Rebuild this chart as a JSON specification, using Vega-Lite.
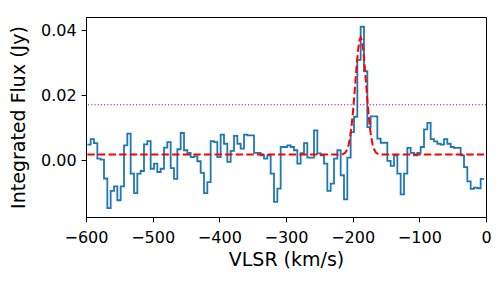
{
  "$schema": "https://vega.github.io/schema/vega-lite/v6.json",
  "width": 400,
  "height": 200,
  "autosize": {"type": "none"},
  "padding": {"left": 86, "top": 17, "right": 17, "bottom": 64},
  "config": {
    "font": "DejaVu Sans",
    "view": {"stroke": "black", "strokeWidth": 1},
    "axis": {
      "grid": false,
      "domainColor": "black",
      "tickColor": "black",
      "labelColor": "black",
      "titleColor": "black",
      "tickSize": 4.9,
      "labelPadding": 4.9,
      "labelFontSize": 16,
      "titleFontSize": 19,
      "titleFontWeight": "normal",
      "labelFont": "DejaVu Sans",
      "titleFont": "DejaVu Sans",
      "labelFlush": false,
      "labelOverlap": false,
      "domainWidth": 1,
      "tickWidth": 1
    },
    "axisX": {"labelPadding": 7.5, "titlePadding": 5},
    "axisY": {"titlePadding": 12}
  },
  "datasets": {
    "spectrum": [
      {"v": -598, "flux": 0.0048}, {"v": -593, "flux": 0.0065}, {"v": -588, "flux": 0.0053}, {"v": -583, "flux": 0.0005},
      {"v": -578, "flux": 0.0002}, {"v": -573, "flux": -0.0056}, {"v": -568, "flux": -0.0147}, {"v": -563, "flux": -0.0094},
      {"v": -558, "flux": -0.0080}, {"v": -553, "flux": -0.0123}, {"v": -548, "flux": -0.0080}, {"v": -543, "flux": 0.0046},
      {"v": -538, "flux": 0.0082}, {"v": -533, "flux": -0.0041}, {"v": -528, "flux": -0.0101}, {"v": -523, "flux": -0.0041},
      {"v": -518, "flux": -0.0033}, {"v": -513, "flux": 0.0049}, {"v": -508, "flux": 0.0059}, {"v": -503, "flux": -0.0026},
      {"v": -498, "flux": -0.0010}, {"v": -493, "flux": -0.0036}, {"v": -488, "flux": -0.0026}, {"v": -483, "flux": 0.0039},
      {"v": -478, "flux": 0.0056}, {"v": -473, "flux": -0.0024}, {"v": -468, "flux": -0.0057}, {"v": -463, "flux": 0.0034},
      {"v": -458, "flux": 0.0084}, {"v": -453, "flux": 0.0031}, {"v": -448, "flux": 0.0023}, {"v": -443, "flux": 0.0010},
      {"v": -438, "flux": 0.0012}, {"v": -433, "flux": -0.0003}, {"v": -428, "flux": -0.0039}, {"v": -423, "flux": -0.0101},
      {"v": -418, "flux": -0.0067}, {"v": -413, "flux": 0.0059}, {"v": -408, "flux": 0.0056}, {"v": -403, "flux": 0.0010},
      {"v": -398, "flux": 0.0079}, {"v": -393, "flux": 0.0051}, {"v": -388, "flux": -0.0005}, {"v": -383, "flux": 0.0029},
      {"v": -378, "flux": 0.0075}, {"v": -373, "flux": 0.0051}, {"v": -368, "flux": 0.0036}, {"v": -363, "flux": 0.0079},
      {"v": -358, "flux": 0.0077}, {"v": -353, "flux": 0.0077}, {"v": -348, "flux": 0.0023}, {"v": -343, "flux": 0.0023},
      {"v": -338, "flux": 0.0015}, {"v": -333, "flux": 0.0005}, {"v": -328, "flux": 0.0015}, {"v": -323, "flux": -0.0041},
      {"v": -318, "flux": -0.0128}, {"v": -313, "flux": -0.0087}, {"v": -308, "flux": 0.0041}, {"v": -303, "flux": 0.0041},
      {"v": -298, "flux": 0.0046}, {"v": -293, "flux": 0.0041}, {"v": -288, "flux": 0.0031}, {"v": -283, "flux": -0.0010},
      {"v": -278, "flux": 0.0022}, {"v": -273, "flux": 0.0053}, {"v": -268, "flux": 0.0008}, {"v": -263, "flux": 0.0008},
      {"v": -258, "flux": 0.0092}, {"v": -253, "flux": 0.0021}, {"v": -248, "flux": 0.0015}, {"v": -243, "flux": -0.0010},
      {"v": -238, "flux": -0.0094}, {"v": -233, "flux": -0.0072}, {"v": -228, "flux": 0.0005}, {"v": -223, "flux": 0.0031},
      {"v": -218, "flux": -0.0046}, {"v": -213, "flux": -0.0120}, {"v": -208, "flux": 0.0008}, {"v": -203, "flux": 0.0087},
      {"v": -198, "flux": 0.0134}, {"v": -193, "flux": 0.0309}, {"v": -188, "flux": 0.0411}, {"v": -183, "flux": 0.0274},
      {"v": -178, "flux": 0.0102}, {"v": -173, "flux": 0.0135}, {"v": -168, "flux": 0.0135}, {"v": -163, "flux": 0.0067},
      {"v": -158, "flux": 0.0054}, {"v": -153, "flux": 0.0054}, {"v": -148, "flux": -0.0002}, {"v": -143, "flux": -0.0017},
      {"v": -138, "flux": 0.0015}, {"v": -133, "flux": -0.0041}, {"v": -128, "flux": -0.0105}, {"v": -123, "flux": -0.0041},
      {"v": -118, "flux": 0.0038}, {"v": -113, "flux": 0.0023}, {"v": -108, "flux": 0.0015}, {"v": -103, "flux": 0.0023},
      {"v": -98, "flux": 0.0041}, {"v": -93, "flux": 0.0095}, {"v": -88, "flux": 0.0115}, {"v": -83, "flux": 0.0065},
      {"v": -78, "flux": 0.0058}, {"v": -73, "flux": 0.0051}, {"v": -68, "flux": 0.0048}, {"v": -63, "flux": 0.0065},
      {"v": -58, "flux": 0.0051}, {"v": -53, "flux": 0.0041}, {"v": -48, "flux": 0.0038}, {"v": -43, "flux": 0.0038},
      {"v": -38, "flux": 0.0015}, {"v": -33, "flux": -0.0021}, {"v": -28, "flux": -0.0065}, {"v": -23, "flux": -0.0088},
      {"v": -18, "flux": -0.0084}, {"v": -13, "flux": -0.0086}, {"v": -8, "flux": -0.0057}, {"v": -3, "flux": -0.0057}
    ],
    "fit": [
      {"v": -598, "fit": 0.00175}, {"v": -220, "fit": 0.00176}, {"v": -216, "fit": 0.00184}, {"v": -214, "fit": 0.00196},
      {"v": -212, "fit": 0.00220}, {"v": -210, "fit": 0.00265}, {"v": -208, "fit": 0.00346}, {"v": -206, "fit": 0.00481},
      {"v": -204, "fit": 0.00688}, {"v": -202, "fit": 0.00985}, {"v": -200, "fit": 0.01380}, {"v": -198, "fit": 0.01860},
      {"v": -196, "fit": 0.02392}, {"v": -194, "fit": 0.02919}, {"v": -192, "fit": 0.03371}, {"v": -190, "fit": 0.03677},
      {"v": -188, "fit": 0.03785}, {"v": -186, "fit": 0.03677}, {"v": -184, "fit": 0.03371}, {"v": -182, "fit": 0.02919},
      {"v": -180, "fit": 0.02392}, {"v": -178, "fit": 0.01860}, {"v": -176, "fit": 0.01380}, {"v": -174, "fit": 0.00985},
      {"v": -172, "fit": 0.00688}, {"v": -170, "fit": 0.00481}, {"v": -168, "fit": 0.00346}, {"v": -166, "fit": 0.00265},
      {"v": -164, "fit": 0.00220}, {"v": -162, "fit": 0.00196}, {"v": -160, "fit": 0.00184}, {"v": -156, "fit": 0.00176},
      {"v": -3, "fit": 0.00175}
    ],
    "threshold": [{"level": 0.0171}]
  },
  "layer": [
    {
      "data": {"name": "spectrum"},
      "mark": {"type": "line", "interpolate": "step-after", "color": "#1f77b4", "strokeWidth": 1.8},
      "encoding": {
        "x": {
          "field": "v", "type": "quantitative",
          "scale": {"domain": [-600, 0], "nice": false, "zero": false, "padding": 0},
          "axis": {"values": [-600, -500, -400, -300, -200, -100, 0], "format": "d", "title": "VLSR (km/s)"}
        },
        "y": {
          "field": "flux", "type": "quantitative",
          "scale": {"domain": [-0.01745, 0.0441], "nice": false, "zero": false, "padding": 0},
          "axis": {"values": [0, 0.02, 0.04], "format": ".2f", "title": "Integrated Flux (Jy)"}
        }
      }
    },
    {
      "data": {"name": "fit"},
      "mark": {"type": "line", "color": "#ff0000", "strokeWidth": 2, "strokeDash": [7.4, 3.2]},
      "encoding": {
        "x": {"field": "v", "type": "quantitative", "title": "VLSR (km/s)", "scale": {"domain": [-600, 0], "nice": false, "zero": false, "padding": 0}},
        "y": {"field": "fit", "type": "quantitative", "title": "Integrated Flux (Jy)"}
      }
    },
    {
      "data": {"name": "threshold"},
      "mark": {"type": "rule", "color": "#bf00bf", "strokeWidth": 1.2, "strokeDash": [1.2, 2]},
      "encoding": {"y": {"field": "level", "type": "quantitative", "title": "Integrated Flux (Jy)"}}
    }
  ]
}
